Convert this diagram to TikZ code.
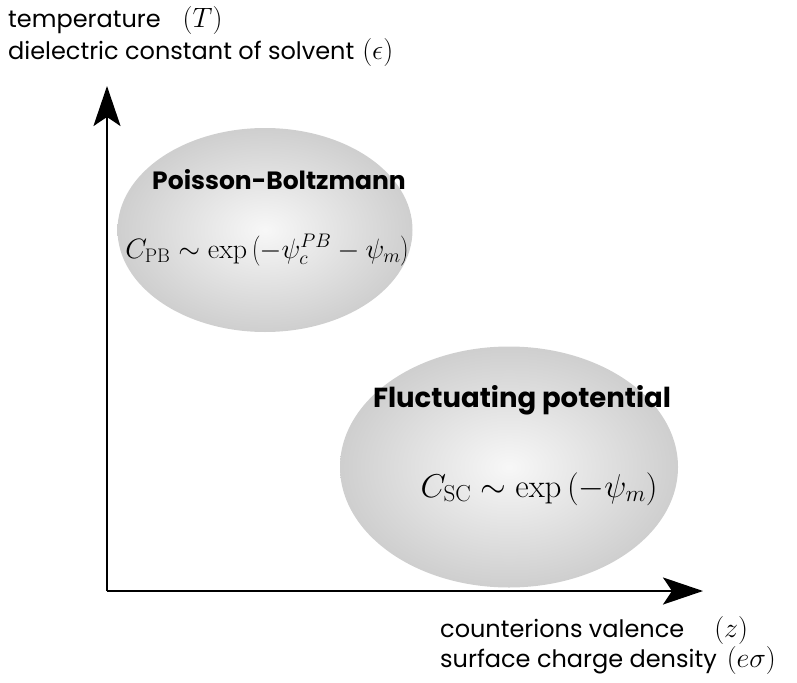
\RequirePackage{fix-cm}
\documentclass[tikz,border=0pt]{standalone}
\usepackage[no-math]{fontspec}
\setmainfont{Poppins}
\usetikzlibrary{arrows.meta,shapes.geometric}
\newcommand{\lmath}[1]{{\fontsize{28}{30}\selectfont$#1$}}
\tikzset{
  axis/.style={line width=2.6pt,-{Stealth[length=40pt,width=27pt,inset=9pt]}},
  region/.style={ellipse,inner color=gray!6,outer color=gray!38},
  axlabel/.style={anchor=base west,inner sep=0pt,font=\fontsize{24}{28}\selectfont},
  title/.style={anchor=base,inner sep=0pt,font=\fontsize{25}{28}\selectfont\bfseries},
  formula/.style={anchor=base,inner sep=0pt,font=\fontsize{28}{32}\selectfont}
}
\begin{document}
\begin{tikzpicture}[x=1pt,y=-1pt]
\useasboundingbox (0,0) rectangle (797,682);
% regions
\node[region,minimum width=295pt,minimum height=204pt] (pb) at (265,230) {};
\node[region,minimum width=338pt,minimum height=241pt] (fp) at (509,467) {};
% axes
\coordinate (o) at (107,591);
\coordinate (ytip) at (107,86);
\coordinate (xtip) at (703,591);
\draw[axis] (o) -- (ytip);
\draw[axis] (o) -- (xtip);
% texts
\node[title] (pbt) at (279,189) {Poisson-Boltzmann};
\node[formula] (pbf) at (267,258) {$C_{\mathrm{PB}}\sim\exp\left(-\psi_c^{PB}-\psi_m\right)$};
\node[title,font=\fontsize{27.5}{30}\selectfont\bfseries] (fpt) at (522,407) {Fluctuating potential};
\node[formula,font=\fontsize{33}{38}\selectfont] (fpf) at (539,497) {$C_{\mathrm{SC}}\sim\exp\left(-\psi_m\right)$};
\node[axlabel] (t1) at (8,28) {temperature\hspace{22pt}\lmath{(T)}};
\node[axlabel] (t2) at (8,60) {dielectric constant of solvent\hspace{8pt}\lmath{(\epsilon)}};
\node[axlabel] (b1) at (440,637) {counterions valence\hspace{30pt}\lmath{(z)}};
\node[axlabel] (b2) at (440,667) {surface charge density\hspace{10pt}\lmath{(e\sigma)}};
\end{tikzpicture}
\end{document}
